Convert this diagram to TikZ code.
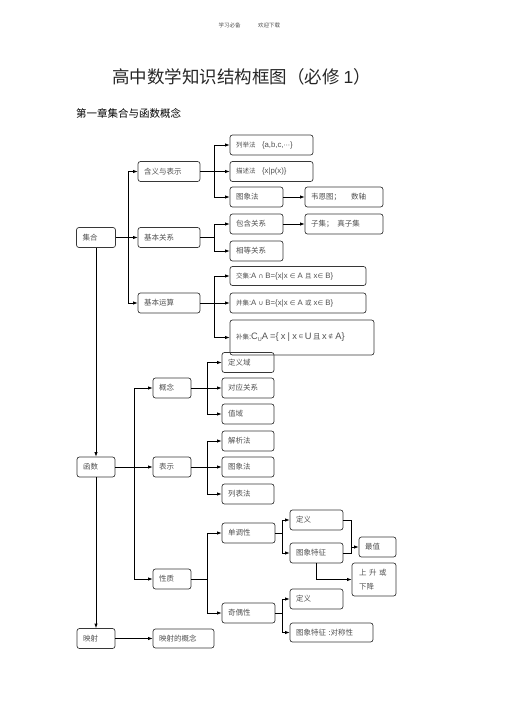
\documentclass[tikz,border=0pt]{standalone}
\usepackage{fontspec}
\setmainfont{Noto Sans CJK SC}
\newfontfamily\lat{Liberation Sans}
\newfontfamily\dv{DejaVu Sans}
\usetikzlibrary{arrows.meta}
\definecolor{txt}{RGB}{80,80,80}
\definecolor{edge}{RGB}{55,55,55}
\newcommand{\Sy}[1]{{\dv #1}}
\newcommand{\La}[1]{{\lat\fontsize{7.8}{9}\selectfont #1}}
\newcommand{\Lb}[1]{{\lat\fontsize{9.3}{10}\selectfont #1}}
\tikzset{
 bx/.style={draw=edge, line width=0.7pt, rounded corners=2.5pt, inner xsep=6pt, inner ysep=0pt,
   minimum height=20pt, text width=#1, align=left, font=\fontsize{7.5}{9}\selectfont, text=txt},
 ar/.style={line width=0.8pt, -{Latex[length=4.5pt,width=3.4pt]}},
 ln/.style={line width=0.8pt},
}
\begin{document}
\begin{tikzpicture}[x=1pt,y=-1pt]
\useasboundingbox (0,0) rectangle (505,714);
% header
\node[font=\fontsize{5.5}{6}\selectfont, text=txt] (h1) at (229.5,25) {学习必备};
\node[font=\fontsize{5.5}{6}\selectfont, text=txt] (h2) at (269,25) {欢迎下载};
\node[font=\fontsize{17.5}{20}\selectfont, text=black!85] (title) at (241.5,77) {高中数学知识结构框图（必修 {\lat 1}）};
\node[font=\fontsize{10.5}{12}\selectfont, anchor=west, inner sep=0pt] (head) at (76,113) {第一章集合与函数概念};
% set part
\node[bx=27] (jh) at (96,237.5) {集合};
\node[bx=50] (hy) at (169,171.5) {含义与表示};
\node[bx=50] (gx) at (169,237.5) {基本关系};
\node[bx=50] (ys) at (169,303) {基本运算};
\node[bx=71, font=\fontsize{6.5}{8}\selectfont] (lj) at (271.5,145) {列举法\quad\La{\{a,b,c,}\Sy{⋯}\La{\}}};
\node[bx=71, font=\fontsize{6.5}{8}\selectfont] (ms) at (271.5,171.5) {描述法\quad\La{\{x|p(x)\}}};
\node[bx=41] (tx) at (256.5,197) {图象法};
\node[bx=66] (wn) at (344,197) {韦恩图；\quad\ 数轴};
\node[bx=41] (bh) at (256.5,224) {包含关系};
\node[bx=66] (zj) at (344,224) {子集；\enspace 真子集};
\node[bx=41] (xd) at (256.5,251) {相等关系};
\node[bx=124, minimum height=19pt, font=\fontsize{6.5}{8}\selectfont] (jj) at (298,276)
  {交集\La{:A }\Sy{∩}\La{ B=\{x|x }\Sy{∈}\La{ A }且\La{ x}\Sy{∈}\La{ B\}}};
\node[bx=124, font=\fontsize{6.5}{8}\selectfont] (bj) at (298,303)
  {并集\La{:A }\Sy{∪}\La{ B=\{x|x }\Sy{∈}\La{ A }或\La{ x}\Sy{∈}\La{ B\}}};
\node[bx=132, minimum height=35pt, font=\fontsize{6.5}{8}\selectfont] (bu) at (302,337.5)
  {补集\La{:}\Lb{C\raisebox{-1.5pt}{\fontsize{5.5}{6}\selectfont U}A =\{ x | x\,}\raisebox{1pt}{\dv\fontsize{5.5}{7}\selectfont ∈}\Lb{\,U\,}{\fontsize{7.5}{9}\selectfont 且}\Lb{\,x\,}\raisebox{1pt}{\dv\fontsize{5.5}{7}\selectfont ∉}\Lb{\ A\}}};
% function part
\node[bx=26] (hs) at (96,467) {函数};
\node[bx=26] (gn) at (172,388) {概念};
\node[bx=26] (bs) at (172,467) {表示};
\node[bx=26] (xz) at (172,579) {性质};
\node[bx=40] (dyy) at (248,362.5) {定义域};
\node[bx=40] (dg) at (248,388) {对应关系};
\node[bx=40] (zy) at (248,414) {值域};
\node[bx=40] (jx) at (248,441) {解析法};
\node[bx=40] (txf) at (248,467) {图象法};
\node[bx=40] (lb) at (248,494) {列表法};
\node[bx=41] (dd) at (248.5,533) {单调性};
\node[bx=41] (dy1) at (316.5,520) {定义};
\node[bx=41] (tz1) at (316.5,553) {图象特征};
\node[bx=25] (zz) at (377.5,547) {最值};
\node[bx=30, minimum height=33pt, inner xsep=7pt, font=\fontsize{7.5}{14}\selectfont] (ss) at (374,579.5) {上 升 或\\下降};
\node[bx=41] (jo) at (248.5,613) {奇偶性};
\node[bx=41] (dy2) at (316.5,599) {定义};
\node[bx=71, minimum height=19pt] (tz2) at (331.5,632.5) {图象特征 :对称性};
\node[bx=26] (ym) at (96,638.5) {映射};
\node[bx=49, minimum height=19pt] (ymg) at (183.5,638.5) {映射的概念};
% branch coordinates
\coordinate (b1) at (128,0);
\coordinate (b2) at (214,0);
\coordinate (b3) at (134,0);
\coordinate (b4) at (207,0);
\coordinate (b5) at (282,0);
\coordinate (b6) at (351,0);
% set connectors
\draw[ar] (jh.east) -- (gx.west);
\draw[ln] (b1|-hy.west) -- (b1|-ys.west);
\draw[ar] (b1|-hy.west) -- (hy.west);
\draw[ar] (b1|-ys.west) -- (ys.west);
\draw[ln] (hy.east) -- (b2|-hy.east);
\draw[ln] (b2|-lj.west) -- (b2|-tx.west);
\draw[ar] (b2|-lj.west) -- (lj.west);
\draw[ar] (b2|-ms.west) -- (ms.west);
\draw[ar] (b2|-tx.west) -- (tx.west);
\draw[ar] (tx.east) -- (wn.west);
\draw[ln] (gx.east) -- (b2|-gx.east);
\draw[ln] (b2|-bh.west) -- (b2|-xd.west);
\draw[ar] (b2|-bh.west) -- (bh.west);
\draw[ar] (b2|-xd.west) -- (xd.west);
\draw[ar] (bh.east) -- (zj.west);
\draw[ln] (ys.east) -- (b2|-ys.east);
\draw[ln] (b2|-jj.west) -- (b2|-bu.west);
\draw[ar] (b2|-jj.west) -- (jj.west);
\draw[ar] (b2|-bj.west) -- (bj.west);
\draw[ar] (b2|-bu.west) -- (bu.west);
% trunk
\draw[ar] (jh.south) -- (hs.north);
\draw[ar] (hs.south) -- (ym.north);
% function connectors
\draw[ar] (hs.east) -- (bs.west);
\draw[ln] (b3|-gn.west) -- (b3|-xz.west);
\draw[ar] (b3|-gn.west) -- (gn.west);
\draw[ar] (b3|-xz.west) -- (xz.west);
\draw[ln] (gn.east) -- (b4|-gn.east);
\draw[ln] (b4|-dyy.west) -- (b4|-zy.west);
\draw[ar] (b4|-dyy.west) -- (dyy.west);
\draw[ar] (b4|-dg.west) -- (dg.west);
\draw[ar] (b4|-zy.west) -- (zy.west);
\draw[ln] (bs.east) -- (b4|-bs.east);
\draw[ln] (b4|-jx.west) -- (b4|-lb.west);
\draw[ar] (b4|-jx.west) -- (jx.west);
\draw[ar] (b4|-txf.west) -- (txf.west);
\draw[ar] (b4|-lb.west) -- (lb.west);
\draw[ln] (xz.east) -- (b4|-xz.east);
\draw[ln] (b4|-dd.west) -- (b4|-jo.west);
\draw[ar] (b4|-dd.west) -- (dd.west);
\draw[ar] (b4|-jo.west) -- (jo.west);
\draw[ln] (dd.east) -- (b5|-dd.east);
\draw[ln] (b5|-dy1.west) -- (b5|-tz1.west);
\draw[ar] (b5|-dy1.west) -- (dy1.west);
\draw[ar] (b5|-tz1.west) -- (tz1.west);
\draw[ln] (dy1.east) -- (b6|-dy1.east) -- (b6|-tz1.east) -- (tz1.east);
\draw[ar] (b6|-zz.west) -- (zz.west);
\draw[ar] (tz1.south) |- (ss.west);
\draw[ln] (jo.east) -- (b5|-jo.east);
\draw[ln] (b5|-dy2.west) -- (b5|-tz2.west);
\draw[ar] (b5|-dy2.west) -- (dy2.west);
\draw[ar] (b5|-tz2.west) -- (tz2.west);
\draw[ar] (ym.east) -- (ymg.west);
\end{tikzpicture}
\end{document}
